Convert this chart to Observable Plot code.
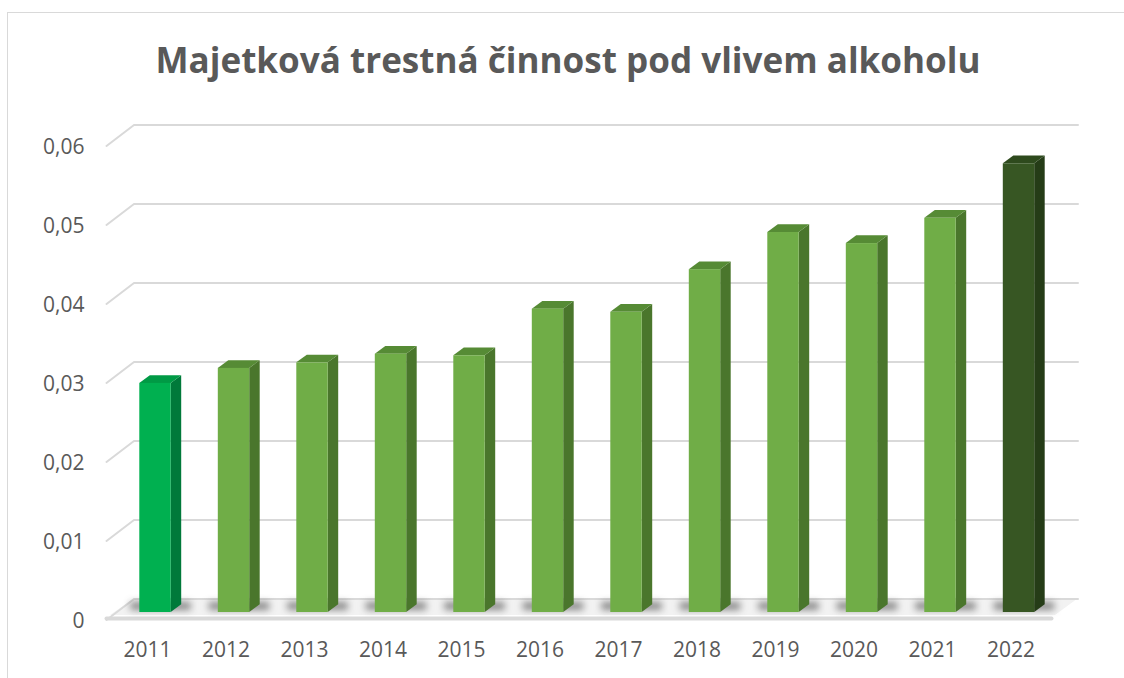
<!DOCTYPE html>
<html>
<head>
<meta charset="utf-8">
<script src="https://cdn.jsdelivr.net/npm/d3@7"></script>
<script src="https://cdn.jsdelivr.net/npm/@observablehq/plot@0.6"></script>
<style>
  html, body { margin: 0; padding: 0; background: #fff; }
  #wrap { position: relative; width: 1124px; height: 678px; overflow: hidden; }
  #border { position: absolute; left: 7px; top: 12px; right: -2px; bottom: -2px;
            border-left: 1px solid #d9d9d9; border-top: 1px solid #d9d9d9; pointer-events: none; }
  svg { display: block; }
</style>
</head>
<body>
<div id="wrap"><div id="chart"></div><div id="border"></div></div>
<script>
// ---- data ----
const title = "Majetková trestná činnost pod vlivem alkoholu";
const years = ["2011","2012","2013","2014","2015","2016","2017","2018","2019","2020","2021","2022"];
const values = [0.0290, 0.0309, 0.0316, 0.0327, 0.0325, 0.0384, 0.0380, 0.0434, 0.0481, 0.0467, 0.0499, 0.0568];
const yTicks = [0, 0.01, 0.02, 0.03, 0.04, 0.05, 0.06];

// ---- styles ----
function colours(i) {
  if (i === 0) return {front: "#00B050", side: "#00793A", top: "#009A45"};
  if (i === years.length - 1) return {front: "#375623", side: "#253C17", top: "#2E4A1D"};
  return {front: "#70AD47", side: "#4A762C", top: "#568B35"};
}
const ink = "#595959", grid = "#D9D9D9";

// ---- layout (pixel helpers mapped through scale domains) ----
const W = 1124, H = 678;
const step = 78.5;            // px per category
const c0 = 155;               // px centre of first bar front face
const yBase = 612, yTopPx = 138; // px of 0 and 0.06 on bar front plane
const pxPerV = (yBase - yTopPx) / 0.06;
const X = px => (px - c0) / step;          // absolute px -> x index
const V = px => (yBase - px) / pxPerV;     // absolute px -> value
const dX = px => px / step;
const dV = px => px / pxPerV;

const half = dX(15.7), depthX = dX(10.5), depthY = dV(7.7);

const bars = years.map((year, i) => ({year, i, v: values[i], ...colours(i)}));

const sidePts = bars.flatMap(d => [
  {i: d.i, x: d.i + half, y1: 0, y2: d.v, c: d.side},
  {i: d.i, x: d.i + half + depthX, y1: depthY, y2: d.v + depthY, c: d.side}
]);
const topPts = bars.flatMap(d => [
  {i: d.i, y: d.v, x1: d.i - half, x2: d.i + half, c: d.top},
  {i: d.i, y: d.v + depthY, x1: d.i - half + depthX, x2: d.i + half + depthX, c: d.top}
]);

const gridPts = yTicks.flatMap(t => [
  {t, x: X(106), y: t - dV(7.5)},
  {t, x: X(133.5), y: t + dV(13.5)},
  {t, x: X(1077.5), y: t + dV(13.5)}
]);

const floor = [
  {y: -dV(3), x1: X(110), x2: X(1055)},
  {y: dV(13.5), x1: X(133.5), x2: X(1077.5)}
];
const floorFront = [{x: X(106), y: -dV(6)}, {x: X(1051), y: -dV(6)}];

const fmt = t => t === 0 ? "0" : t.toFixed(2).replace(".", ",");

const plot = Plot.plot({
  width: W, height: H,
  marginLeft: c0 - step / 2, marginRight: W - (c0 + step * 11.5),
  marginTop: yTopPx, marginBottom: H - yBase,
  x: {domain: [-0.5, 11.5], axis: null},
  y: {domain: [0, 0.06], axis: null},
  color: {type: "identity"},
  style: {fontFamily: "'Open Sans', sans-serif", background: "transparent", overflow: "visible"},
  marks: [
    // floor
    Plot.areaX(floor, {y: "y", x1: "x1", x2: "x2", fill: "#F2F2F2"}),
    Plot.line(gridPts, {x: "x", y: "y", z: "t", stroke: grid, strokeWidth: 2}),
    Plot.line(floorFront, {x: "x", y: "y", stroke: grid, strokeWidth: 4}),
    // shadows on floor
    Plot.rect(bars, {
      x1: d => d.i - half - dX(9), x2: d => d.i + half + dX(20),
      y1: dV(2), y2: dV(10),
      fill: "#333333", fillOpacity: 0.55, imageFilter: "blur(3.5px)"
    }),
    // 3D bars
    Plot.areaY(sidePts, {x: "x", y1: "y1", y2: "y2", z: "i", fill: "c"}),
    Plot.areaX(topPts, {y: "y", x1: "x1", x2: "x2", z: "i", fill: "c"}),
    Plot.rect(bars, {x1: d => d.i - half, x2: d => d.i + half, y1: 0, y2: "v", fill: "front"}),
    // axes
    Plot.axisY({ticks: yTicks, tickFormat: fmt, tickSize: 0, tickPadding: (c0 - step / 2) - 84,
                dy: 9, fontSize: 21, color: ink}),
    Plot.axisX({ticks: d3.range(years.length), tickFormat: i => years[i], tickSize: 0,
                tickPadding: 30, dx: -8, fontSize: 21, color: ink}),
    // title
    Plot.text([title], {x: X(567.5), y: V(72.5), text: d => d, lineAnchor: "bottom",
                        fontSize: 36, fontWeight: 700, fill: ink})
  ]
});
document.getElementById("chart").append(plot);
// fit title width to reference
plot.querySelectorAll("text").forEach(t => {
  if (t.textContent === title) {
    t.setAttribute("textLength", 825);
    t.setAttribute("lengthAdjust", "spacingAndGlyphs");
  }
});
</script>
</body>
</html>
